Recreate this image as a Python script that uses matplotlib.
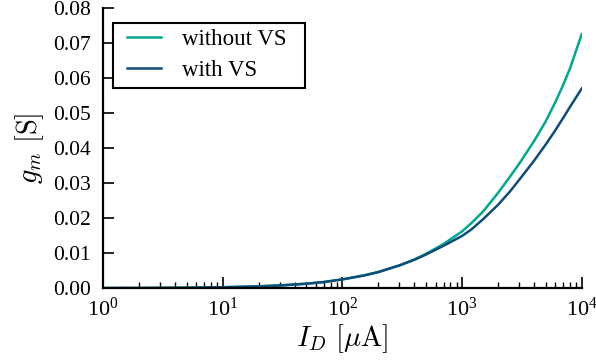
import matplotlib
matplotlib.use("Agg")
import matplotlib.pyplot as plt
from matplotlib.patches import Rectangle
from matplotlib.ticker import LogLocator, MultipleLocator, NullFormatter

plt.rcParams.update({
    "font.family": "serif",
    "font.serif": ["Liberation Serif", "DejaVu Serif"],
    "mathtext.fontset": "cm",
    "font.size": 15.5,
})

# drain current [uA]
i_d = [1, 2, 5, 10, 20, 30, 50, 70, 100, 150, 200, 300, 400, 500, 700,
       1000, 1200, 1500, 2000, 2500, 3000, 4000, 5000, 6000, 7000, 8000, 10000]
# transconductance [S]
gm_without_vs = [0.00003, 0.00005, 0.00013, 0.00026, 0.00052, 0.00077, 0.00127,
                 0.00175, 0.0025, 0.0036, 0.0046, 0.0065, 0.0082, 0.0098, 0.0126,
                 0.0162, 0.0186, 0.0219, 0.0272, 0.0317, 0.0355, 0.0420, 0.0476,
                 0.0530, 0.0580, 0.0628, 0.0725]
gm_with_vs = [0.00003, 0.00005, 0.00013, 0.00026, 0.00052, 0.00077, 0.00127,
              0.00175, 0.0025, 0.0036, 0.0046, 0.0065, 0.0081, 0.0096, 0.0121,
              0.0149, 0.0168, 0.0197, 0.0238, 0.0275, 0.0309, 0.0364, 0.0410,
              0.0450, 0.0486, 0.0518, 0.0570]

teal = "#00a88c"
navy = "#0f4c7a"

fig = plt.figure(figsize=(5.96, 3.62), dpi=100)
ax = fig.add_axes([0.173, 0.204, 0.803, 0.774])

ax.plot(i_d, gm_without_vs, color=teal, lw=1.8, label="without VS")
ax.plot(i_d, gm_with_vs, color=navy, lw=1.8, label="with VS")

ax.set_xscale("log")
ax.set_xlim(1, 1e4)
ax.set_ylim(0, 0.08)
ax.yaxis.set_major_locator(MultipleLocator(0.01))
ax.yaxis.set_major_formatter(plt.FormatStrFormatter("%.2f"))
ax.xaxis.set_major_locator(LogLocator(base=10, numticks=10))
ax.xaxis.set_minor_locator(LogLocator(base=10, subs=range(2, 10), numticks=20))
ax.xaxis.set_minor_formatter(NullFormatter())

for side in ("top", "right"):
    ax.spines[side].set_visible(False)
for side in ("left", "bottom"):
    ax.spines[side].set_linewidth(1.6)
    ax.spines[side].set_color("black")
ax.tick_params(which="major", direction="in", length=8, width=1.2)
ax.tick_params(which="minor", direction="in", length=4, width=1.0)
ax.tick_params(axis="y", which="minor", length=0)
ax.tick_params(axis="y", labelsize=15.5, pad=9)
ax.tick_params(axis="x", labelsize=16, pad=7)

ax.set_xlabel(r"$I_D\ [\mu\mathrm{A}]$", fontsize=20.5, labelpad=1)
ax.set_ylabel(r"$g_m\ [\mathrm{S}]$", fontsize=20.5, labelpad=5)

# legend frame drawn separately so the padding matches the reference
ax.add_patch(Rectangle((0.021, 0.714), 0.401, 0.232, transform=ax.transAxes,
                       facecolor="white", edgecolor="black", lw=1.5,
                       zorder=4, clip_on=False))
leg = ax.legend(loc="upper left", bbox_to_anchor=(0.050, 0.925), borderaxespad=0,
                frameon=False, handlelength=1.5, handletextpad=0.9,
                borderpad=0, labelspacing=0.45, fontsize=16.5)
leg.set_zorder(5)

fig.savefig("out.png", dpi=100)
